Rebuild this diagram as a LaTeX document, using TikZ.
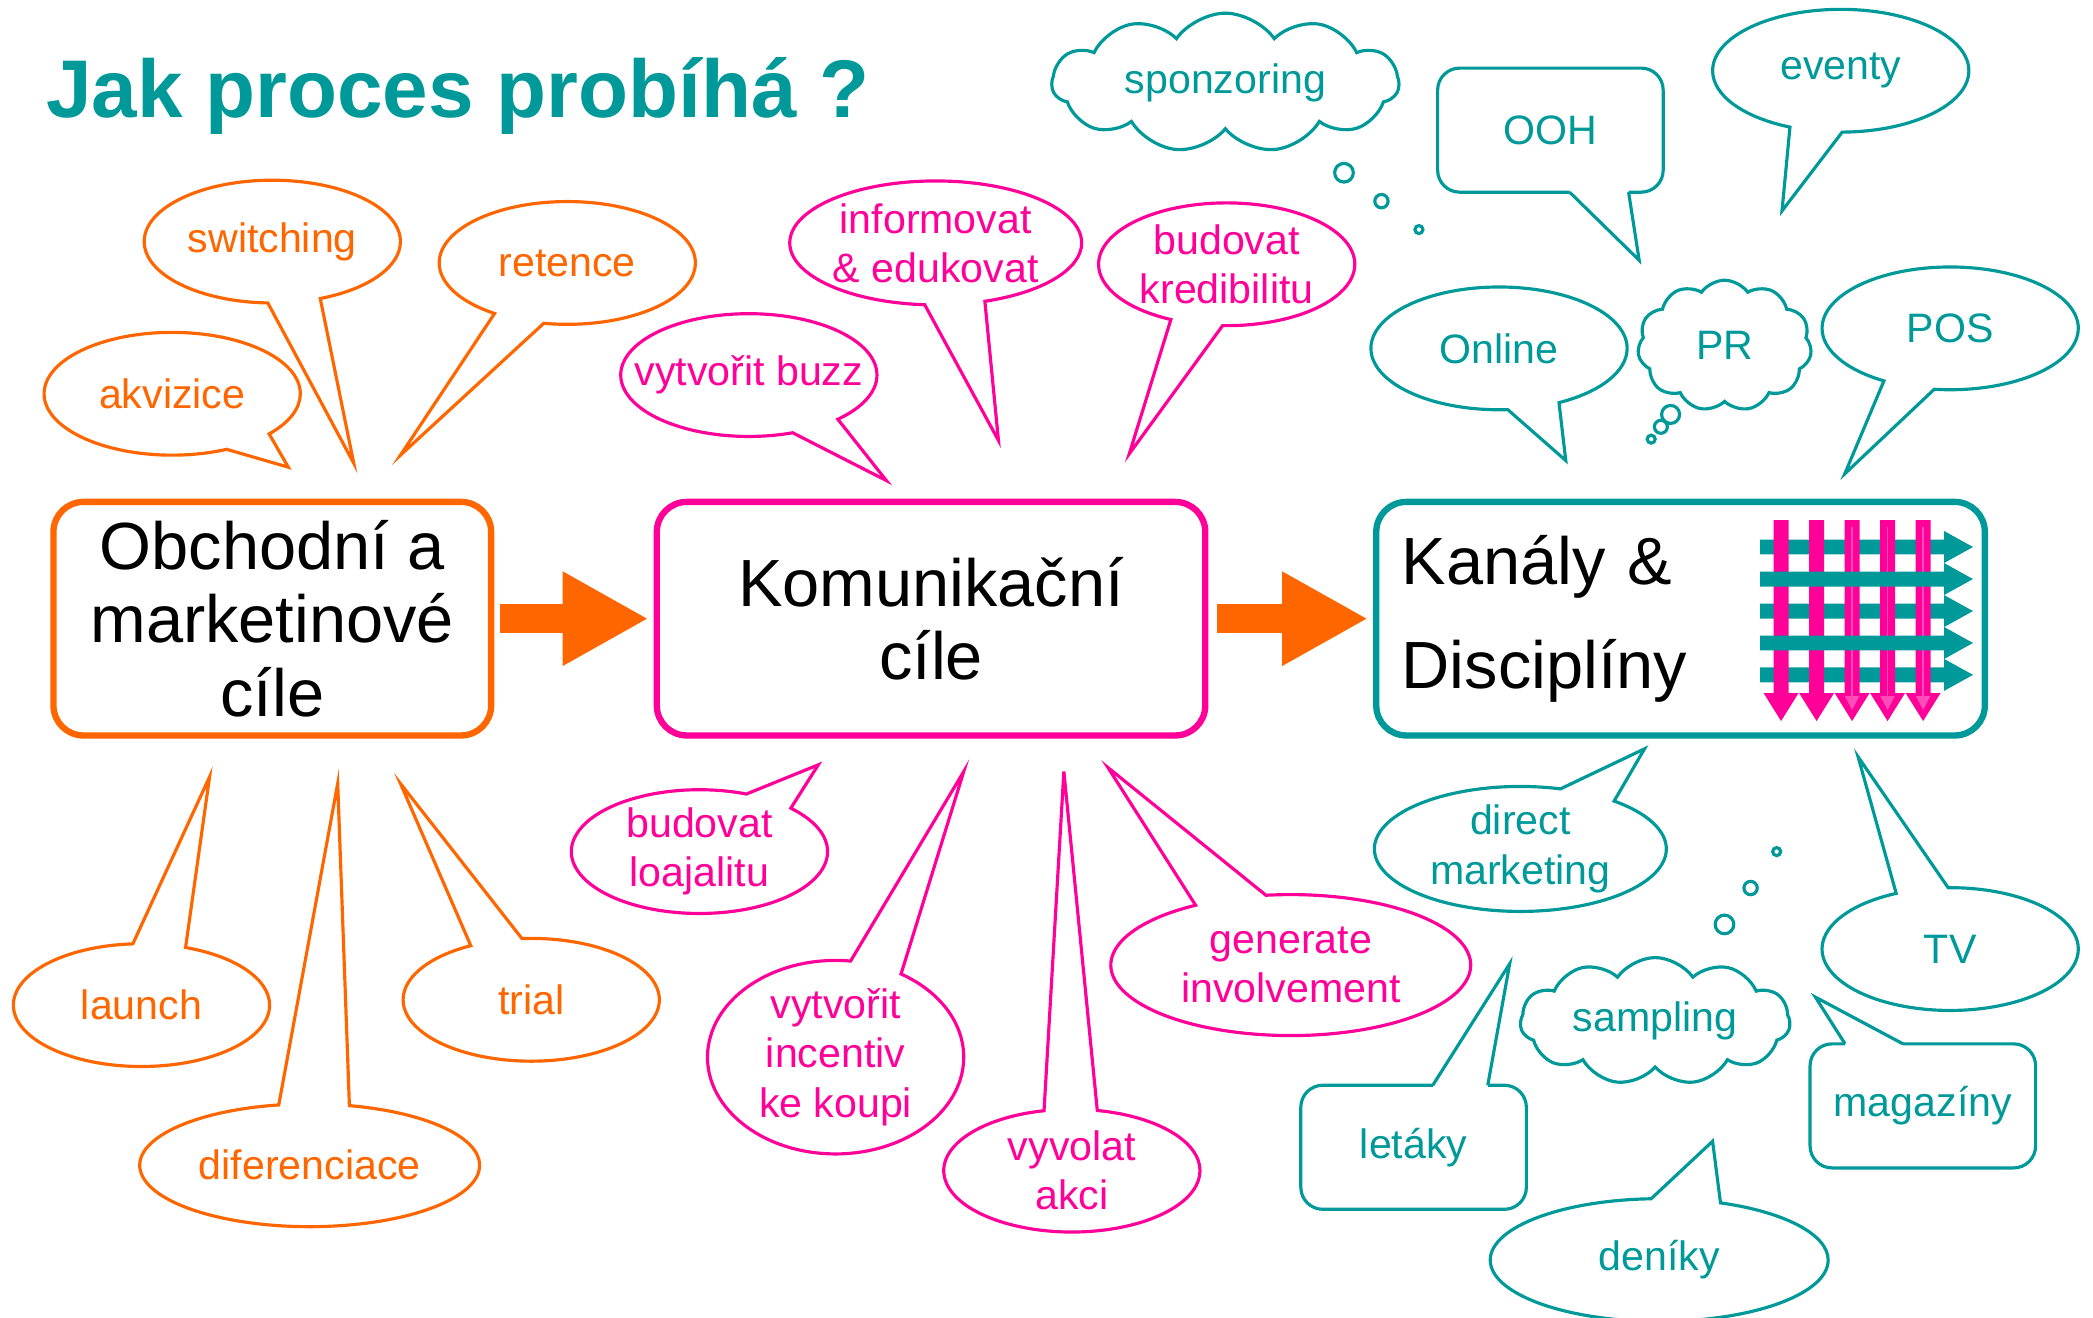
\documentclass[tikz,border=0pt]{standalone}
\usepackage{fontspec}
\setmainfont{Liberation Sans}
\usetikzlibrary{shapes.geometric, shapes.symbols, shapes.callouts, arrows.meta, positioning}
\definecolor{oranz}{HTML}{FF6600}
\definecolor{ruzova}{HTML}{FF0099}
\definecolor{tyrkys}{HTML}{009999}
\tikzstyle{mainbox} = [rectangle, rounded corners=0.3cm, line width=1.8pt, minimum height=2.336cm, align=center, font=\fontsize{19}{21}\selectfont]
\tikzstyle{bubble} = [ellipse callout, line width=0.9pt, callout pointer arc=24, minimum width=2.563cm, minimum height=1.228cm, inner sep=0pt, align=center, font=\fontsize{11.7}{14}\selectfont]
\tikzstyle{obub} = [bubble, draw=oranz, text=oranz]
\tikzstyle{pbub} = [bubble, draw=ruzova, text=ruzova]
\tikzstyle{tbub} = [bubble, draw=tyrkys, text=tyrkys]
\tikzstyle{tcloud} = [cloud callout, draw=tyrkys, text=tyrkys, line width=0.9pt, cloud puffs=11, cloud puff arc=110, inner sep=0pt, font=\fontsize{11.7}{14}\selectfont, callout pointer segments=3, callout pointer start size=0.24cm and 0.24cm, callout pointer end size=0.08cm and 0.08cm]
\tikzstyle{tbox} = [rectangle, outer sep=0pt, text=tyrkys, minimum width=2.256cm, minimum height=1.241cm, font=\fontsize{11.7}{14}\selectfont]
\tikzstyle{tline} = [draw=tyrkys, line width=0.9pt]
\tikzstyle{arrow} = [line width=0.29cm, draw=oranz, -{Triangle[length=0.86cm,width=0.88cm]}]

\begin{document}
\begin{tikzpicture}[x=0.013348cm, y=-0.013348cm]
\useasboundingbox (0,0) rectangle (1568,987);

\node (titul) [anchor=west, inner sep=0pt, text=tyrkys, font=\bfseries\fontsize{23.3}{28}\selectfont] at (34,72) {Jak proces probíhá ?};

% main boxes
\node (obch) [mainbox, draw=oranz, minimum width=4.378cm] at (204,463.5) {Obchodní a\\marketinové\\cíle};
\node (komu) [mainbox, draw=ruzova, minimum width=5.486cm] at (697.5,463.5) {Komunikační\\cíle};
\node (kanaly) [mainbox, draw=tyrkys, minimum width=6.087cm, text width=5.58cm, align=left, font=\fontsize{19}{29.6}\selectfont] at (1259,463.5) {Kanály \&\\Disciplíny};

\draw [arrow, shorten <=0.06cm, shorten >=0.05cm] (obch.east) -- (komu.west);
\draw [arrow, shorten <=0.09cm, shorten >=0.05cm] (komu.east) -- (kanaly.west);

% woven arrows in the channel box
\foreach \y in {409.8,457.8,505.6}
  \fill[tyrkys] (1318.6,\y-5.6) -- (1456.4,\y-5.6) -- (1456.4,\y-12) -- (1478.1,\y) -- (1456.4,\y+12) -- (1456.4,\y+5.6) -- (1318.6,\y+5.6) -- cycle;
\foreach \x in {1334.3,1360.9,1387.5,1414.1,1440.7}
  \fill[ruzova] (\x-5.6,389.6) -- (\x+5.6,389.6) -- (\x+5.6,519.2) -- (\x+13.1,519.2) -- (\x,540.2) -- (\x-13.1,519.2) -- (\x-5.6,519.2) -- cycle;
\foreach \x in {1387.5,1414.1,1440.7}
  \draw[ruzova!70!white, line width=0.5pt, -{Triangle[length=4pt,width=4pt]}] (\x,395) -- (\x,532);
\foreach \y in {433.8,481.7}
  \fill[tyrkys] (1318.6,\y-5.6) -- (1456.4,\y-5.6) -- (1456.4,\y-12) -- (1478.1,\y) -- (1456.4,\y+12) -- (1456.4,\y+5.6) -- (1318.6,\y+5.6) -- cycle;

% business goals
\node (switching) [obub, callout absolute pointer={(265,347)}] at (204,181) {switching};
\node (retence) [obub, callout absolute pointer={(300,341)}] at (425,197) {retence};
\node (akvizice) [obub, callout absolute pointer={(216,350)}] at (129,295) {akvizice};
\node (launch) [obub, callout absolute pointer={(157,582)}] at (106,753) {launch};
\node (diferenciace) [obub, minimum width=3.40cm, callout absolute pointer={(253,587)}] at (232,873) {diferenciace};
\node (trial) [obub, callout absolute pointer={(300,587)}] at (398,749) {trial};

% communication goals
\node (informovat) [pbub, minimum width=2.92cm, minimum height=1.24cm, callout absolute pointer={(748,330)}] at (701,182) {informovat\\\& edukovat};
\node (kredibilita) [pbub, callout absolute pointer={(846,340)}] at (919,198) {budovat\\kredibilitu};
\node (buzz) [pbub, callout absolute pointer={(664,360)}] at (561,281) {\makebox[0pt]{vytvořit buzz}};
\node (loajalita) [pbub, callout absolute pointer={(613,573)}] at (524,638) {budovat\\loajalitu};
\node (incentiv) [pbub, minimum height=1.84cm, callout absolute pointer={(722,578)}] at (626,792) {vytvořit\\incentiv\\ke koupi};
\node (akce) [pbub, callout absolute pointer={(797,578)}] at (803,877) {vyvolat\\akci};
\node (involvement) [pbub, minimum width=3.60cm, minimum height=1.41cm, callout absolute pointer={(830,575)}] at (967,723) {generate\\involvement};

% channels
\node (sponzoring) [tcloud, aspect=2.8, minimum width=3.47cm, minimum height=1.24cm, callout absolute pointer={(1063,172)}] at (918,62) {sponzoring};
\node (eventy) [tbub, callout absolute pointer={(1335,158)}] at (1379,53) {eventy};
\node (online) [tbub, callout absolute pointer={(1173,345)}] at (1123,261) {Online};
\node (pr) [tcloud, aspect=1.3, minimum width=1.74cm, minimum height=1.31cm, callout pointer start size=0.23cm and 0.23cm, callout absolute pointer={(1237,329)}] at (1292,259) {PR};
\node (pos) [tbub, callout absolute pointer={(1382,355)}] at (1461,246) {POS};
\node (direct) [tbub, minimum width=2.92cm, minimum height=1.25cm, callout absolute pointer={(1232,561)}] at (1139,636) {direct\\marketing};
\node (sampling) [tcloud, aspect=2.4, minimum width=2.70cm, minimum height=1.16cm, callout absolute pointer={(1331,638)}] at (1240,765) {sampling};
\node (tv) [tbub, callout absolute pointer={(1392,567)}] at (1461,711) {TV};
\node (deniky) [tbub, minimum width=3.38cm, callout absolute pointer={(1283,855)}] at (1243,944) {deníky};

\node (ooh) [tbox] at (1161.5,97.5) {OOH};
\coordinate (oohtip) at (1228,195);
\draw[tline, rounded corners=0.22cm] ([xshift=1.32cm]ooh.south west) -- (ooh.south west) -- (ooh.north west) -- (ooh.north east) -- (ooh.south east) -- ([xshift=1.91cm]ooh.south west);
\draw[tline] ([xshift=1.32cm]ooh.south west) -- (oohtip) -- ([xshift=1.91cm]ooh.south west);

\node (letaky) [tbox] at (1059,859.5) {letáky};
\coordinate (letakytip) at (1131,722);
\draw[tline, rounded corners=0.22cm] ([xshift=1.32cm]letaky.north west) -- (letaky.north west) -- (letaky.south west) -- (letaky.south east) -- (letaky.north east) -- ([xshift=1.87cm]letaky.north west);
\draw[tline] ([xshift=1.32cm]letaky.north west) -- (letakytip) -- ([xshift=1.87cm]letaky.north west);

\node (magaziny) [tbox] at (1440.5,828.5) {magazíny};
\coordinate (magazinytip) at (1360,747);
\draw[tline, rounded corners=0.22cm] ([xshift=0.35cm]magaziny.north west) -- (magaziny.north west) -- (magaziny.south west) -- (magaziny.south east) -- (magaziny.north east) -- ([xshift=0.93cm]magaziny.north west);
\draw[tline] ([xshift=0.35cm]magaziny.north west) -- (magazinytip) -- ([xshift=0.93cm]magaziny.north west);
\end{tikzpicture}
\end{document}
